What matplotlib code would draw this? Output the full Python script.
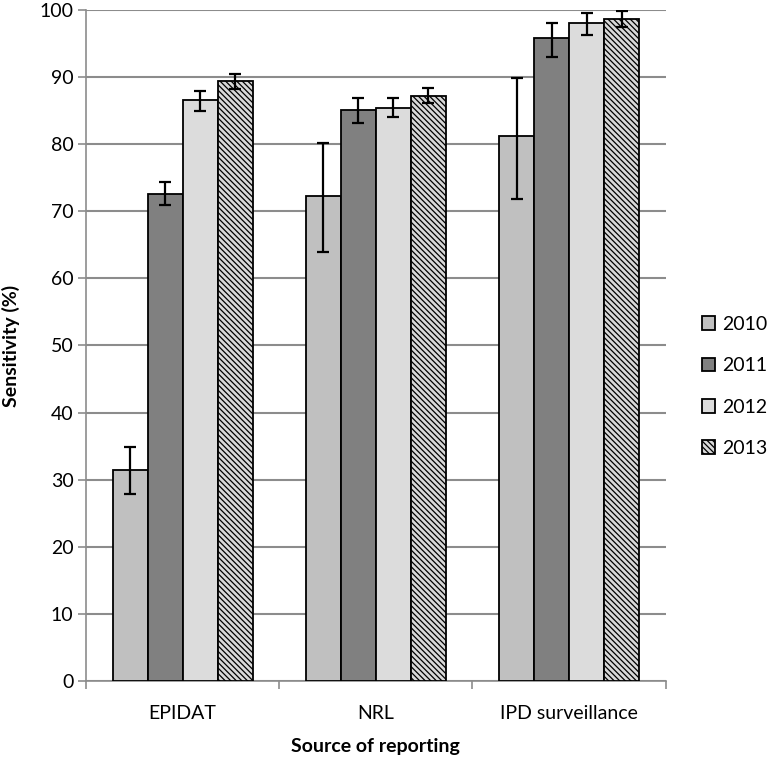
import matplotlib.pyplot as plt
import numpy as np

plt.rcParams["font.family"] = ["Lato", "DejaVu Sans"]
plt.rcParams["hatch.color"] = "#7a7a7a"
plt.rcParams["hatch.linewidth"] = 0.9

sources = ["EPIDAT", "NRL", "IPD surveillance"]
years = ["2010", "2011", "2012", "2013"]
values = {
    "2010": [31.4, 72.3, 81.2],
    "2011": [72.6, 85.1, 95.9],
    "2012": [86.6, 85.4, 98.1],
    "2013": [89.4, 87.2, 98.7],
}
err_low = {
    "2010": [27.8, 64.0, 71.8],
    "2011": [70.9, 83.2, 93.0],
    "2012": [85.0, 84.0, 96.2],
    "2013": [88.2, 86.1, 97.4],
}
err_high = {
    "2010": [34.9, 80.2, 89.9],
    "2011": [74.4, 86.9, 98.1],
    "2012": [88.0, 86.9, 99.6],
    "2013": [90.5, 88.3, 99.9],
}
colors = {"2010": "#c0c0c0", "2011": "#808080", "2012": "#dcdcdc", "2013": "#d8d8d8"}
hatches = {"2010": None, "2011": None, "2012": None, "2013": "\\\\\\\\\\\\"}

fig = plt.figure(figsize=(7.67, 7.57), dpi=100)
ax = fig.add_axes([0.112, 0.1004, 0.756, 0.8864])

x = np.arange(len(sources))
width = 0.181
for i, yr in enumerate(years):
    pos = x + (i - 1.5) * width
    v = np.array(values[yr])
    lo = v - np.array(err_low[yr])
    hi = np.array(err_high[yr]) - v
    ax.bar(pos, v, width, color=colors[yr], edgecolor="black", linewidth=1.3,
           hatch=hatches[yr], label=yr, zorder=3)
    ax.errorbar(pos, v, yerr=[lo, hi], fmt="none", ecolor="black",
                elinewidth=1.6, capsize=4.5, capthick=1.6, zorder=4)

ax.set_xlim(-0.5, 2.5)
ax.set_ylim(0, 100)
ax.set_yticks(np.arange(0, 101, 10))
ax.yaxis.grid(True, color="#8c8c8c", linewidth=1.5, zorder=0)
ax.set_axisbelow(True)

ax.set_xticks(x)
ax.set_xticklabels(sources)
ax.set_xticks(np.arange(-0.5, 2.6, 1), minor=True)
ax.tick_params(axis="x", which="major", length=0, pad=17, labelsize=14)
ax.tick_params(axis="x", which="minor", length=6, color="#8c8c8c", width=1.2)
ax.tick_params(axis="y", length=6, color="#8c8c8c", width=1.2, labelsize=14, pad=3)

for s in ["top", "right"]:
    ax.spines[s].set_visible(False)
for s in ["left", "bottom"]:
    ax.spines[s].set_color("#8c8c8c")
    ax.spines[s].set_linewidth(1.2)

ax.set_xlabel("Source of reporting", fontsize=14, fontweight="bold", labelpad=12)
ax.set_ylabel("Sensitivity (%)", fontsize=14, fontweight="bold", labelpad=14)

fig.legend(loc="center left", bbox_to_anchor=(0.915, 0.4895), frameon=False,
           fontsize=14, handlelength=0.7, handleheight=0.7, handletextpad=0.35,
           labelspacing=1.25, borderpad=0, borderaxespad=0)

plt.savefig("out.png")
plt.close()
